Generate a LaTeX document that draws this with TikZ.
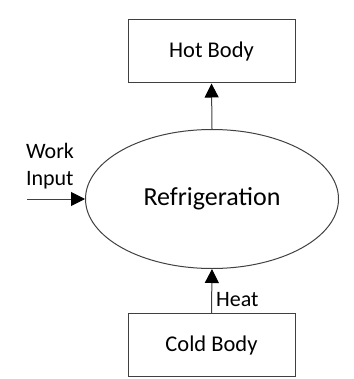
\documentclass[tikz,border=0pt]{standalone}
\usepackage{fontspec}
\setmainfont{Carlito}
\usetikzlibrary{arrows.meta,shapes.geometric}
\begin{document}
\begin{tikzpicture}[x=1pt, y=-1pt,
        body/.style={rectangle, draw=black!75, line width=1pt, minimum width=167pt, minimum height=63pt, inner sep=0pt, font=\fontsize{22.5}{27}\selectfont},
        process/.style={ellipse, draw=black!75, line width=1pt, minimum width=253pt, minimum height=139pt, inner sep=0pt, font=\fontsize{26}{30}\selectfont},
        label/.style={inner sep=0pt, font=\fontsize{22}{27}\selectfont},
        arrow/.style={-{Triangle[length=14pt, width=14pt, color=black]}, draw=black!75, line width=1pt}
    ]
        \useasboundingbox (0,0) rectangle (353,379);

        % Bodies
        \node[body] (hot) at (211.5, 51.5) {Hot Body};
        \node[body] (cold) at (211.5, 345) {Cold Body};

        % Machine
        \node[process] (fridge) at (212, 199) {Refrigeration};

        % Labels
        \node[label, align=left] (work) at (50, 166) {Work\\Input};
        \node[label, anchor=west] (heat) at (216, 300) {Heat};
        \coordinate (workin) at (27, 199);

        % Verbindungen
        \draw[arrow] (workin) -- (fridge.west);
        \draw[arrow] (fridge.north) -- (hot.south);
        \draw[arrow] (cold.north) -- (fridge.south);

    \end{tikzpicture}
\end{document}
